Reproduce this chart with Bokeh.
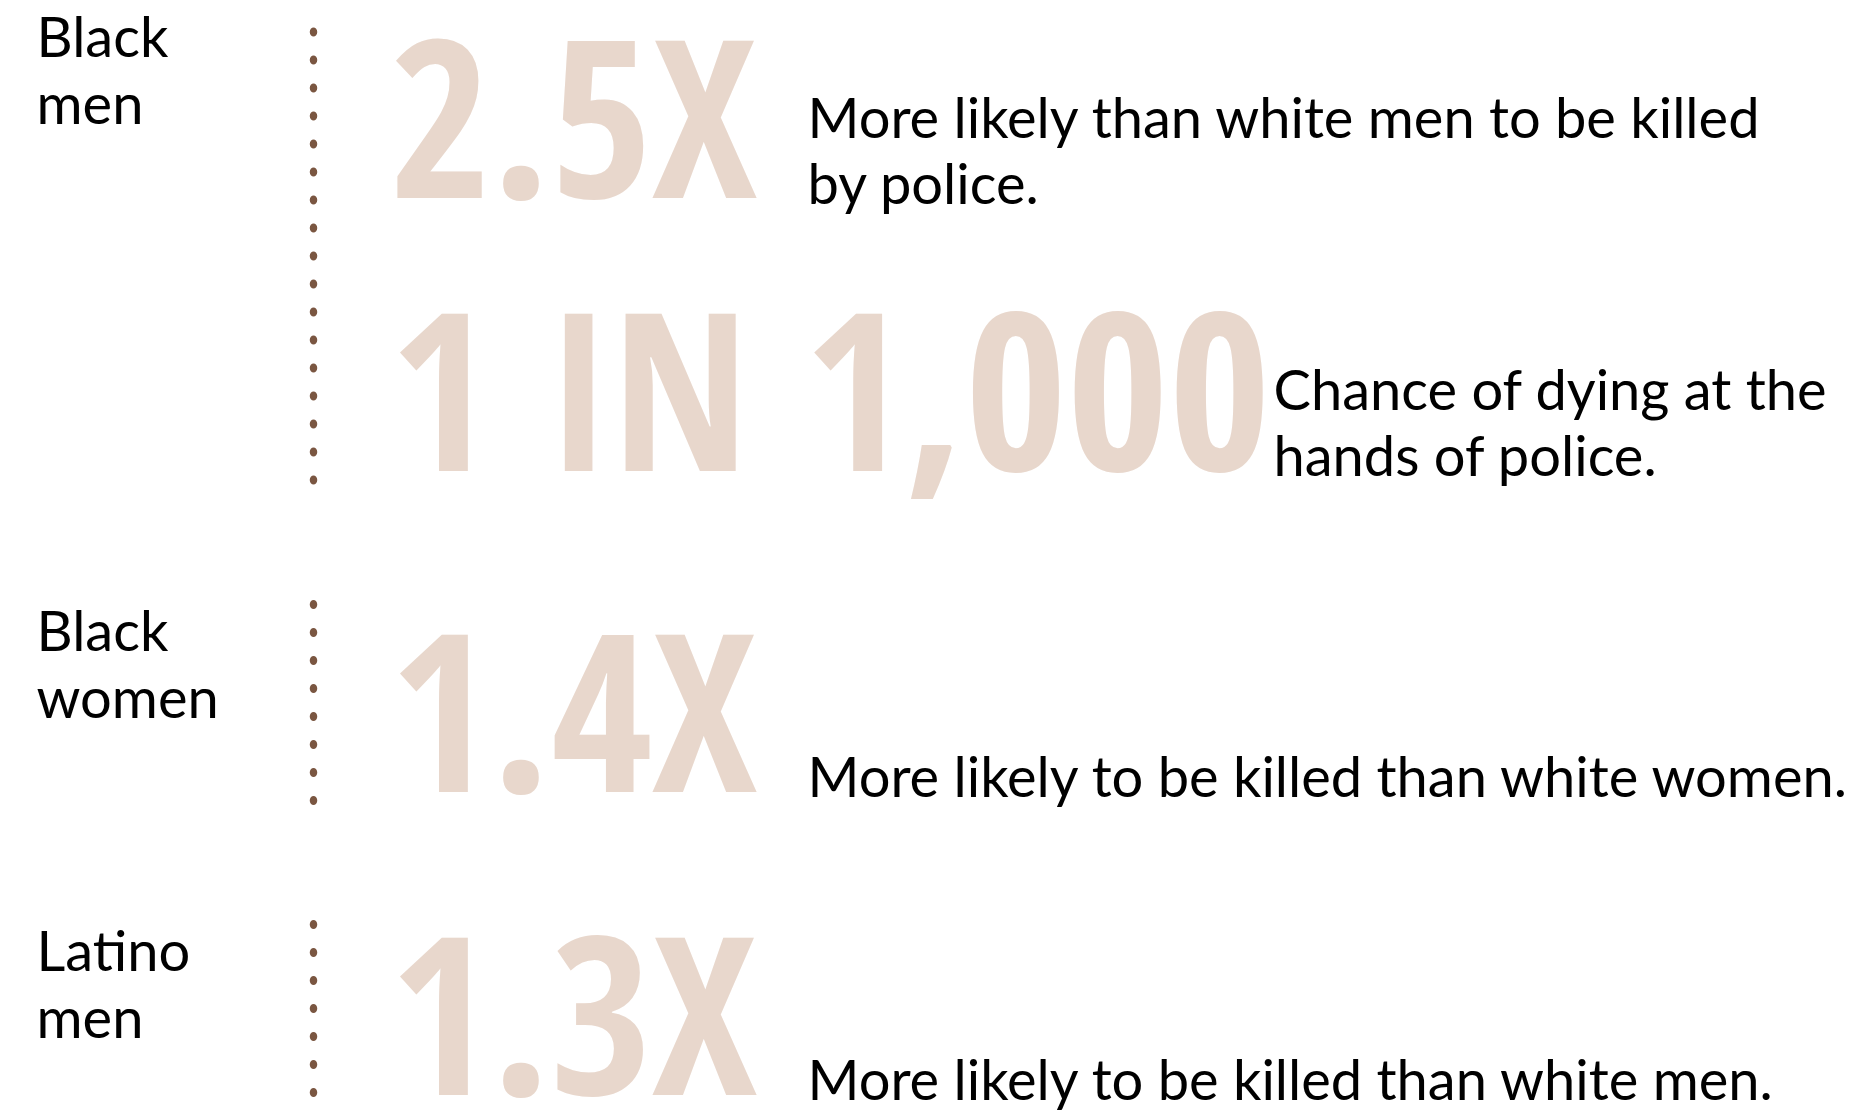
from bokeh.plotting import figure
from bokeh.embed import file_html
from bokeh.resources import INLINE
from bokeh.models import Range1d, ColumnDataSource
from bokeh.core.properties import value

# ---- data ----
group_labels = [["Black", "men"], ["Black", "women"], ["Latino", "men"]]
stats = ["2.5X", "1 IN 1,000", "1.4X", "1.3X"]
stat_group = [0, 0, 1, 2]
descriptions = [
    ["More likely than white men to be killed", "by police."],
    ["Chance of dying at the", "hands of police."],
    ["More likely to be killed than white women."],
    ["More likely to be killed than white men."],
]

# ---- layout (page pixel coordinates) ----
W, H = 1859, 1116
BASE_FIX = 0.405          # renderer places alphabetic baseline ~0.405em low
label_size = 56
label_x = 36
label_base = [58, 652, 972]
label_gap = 66.5
dot_x = 313
dot_starts = [31.5, 604, 924]
dot_counts = [17, 8, 8]
dot_step = 28
stat_size = 220
stat_x = 389
stat_base = [201, 474, 795, 1098]
desc_size = 56
desc_x = [807, 1273, 807, 807]
desc_base = [139, 411, 798, 1101]
desc_gap = 66

BEIGE = "#e8d7cc"
BROWN = "#7a5641"
TEXT = "#000000"

p = figure(width=W, height=H, output_backend="svg", toolbar_location=None, title=None,
           x_range=Range1d(0, W), y_range=Range1d(H, 0),
           min_border=0, outline_line_color=None)
p.axis.visible = False
p.grid.visible = False
p.background_fill_color = "white"
p.border_fill_color = "white"

# group labels
lx, ly, lt = [], [], []
for g, lines in enumerate(group_labels):
    for k, t in enumerate(lines):
        lx.append(label_x)
        ly.append(label_base[g] + k * label_gap - BASE_FIX * label_size)
        lt.append(t)
p.text(x="x", y="y", text="t", source=ColumnDataSource(dict(x=lx, y=ly, t=lt)),
       text_font=value("Lato"), text_font_size=f"{label_size}px", text_color=TEXT,
       text_baseline="alphabetic", text_align="left")

# dotted separators
dx, dy = [], []
for s, n in zip(dot_starts, dot_counts):
    for k in range(n):
        dx.append(dot_x)
        dy.append(s + k * dot_step)
p.ellipse(x=dx, y=dy, width=7.5, height=9, fill_color=BROWN, line_color=None)

# big statistics
sy = [b - BASE_FIX * stat_size for b in stat_base]
p.text(x="x", y="y", text="t",
       source=ColumnDataSource(dict(x=[stat_x] * len(stats), y=sy, t=stats)),
       text_font=value("Open Sans Condensed"), text_font_style="bold",
       text_font_size=f"{stat_size}px", text_color=BEIGE,
       text_baseline="alphabetic", text_align="left")

# descriptions
tx, ty, tt = [], [], []
for i, lines in enumerate(descriptions):
    for k, t in enumerate(lines):
        tx.append(desc_x[i])
        ty.append(desc_base[i] + k * desc_gap - BASE_FIX * desc_size)
        tt.append(t)
p.text(x="x", y="y", text="t", source=ColumnDataSource(dict(x=tx, y=ty, t=tt)),
       text_font=value("Lato"), text_font_size=f"{desc_size}px", text_color=TEXT,
       text_baseline="alphabetic", text_align="left")

open("out.html", "w").write(file_html(p, INLINE))
